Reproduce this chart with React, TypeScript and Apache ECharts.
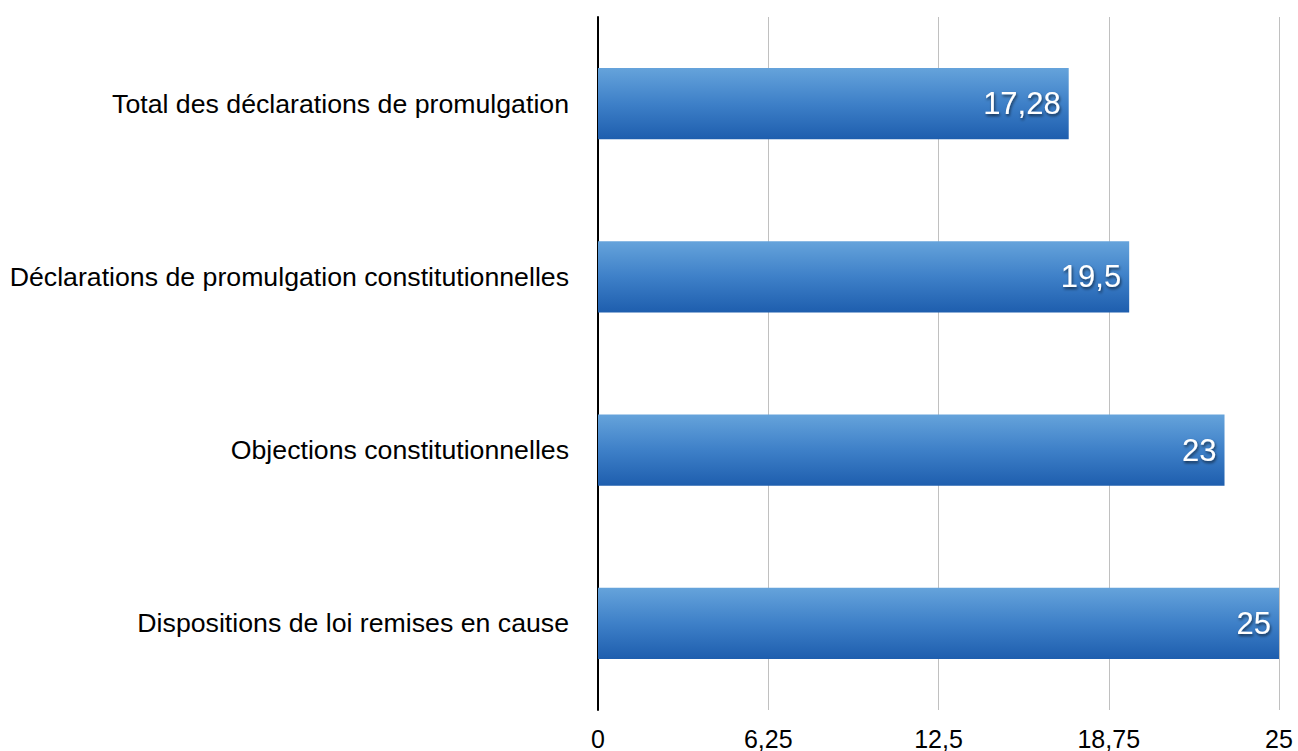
import React, { useEffect, useRef } from "react";
import * as echarts from "echarts";

const categories = [
  "Dispositions de loi remises en cause",
  "Objections constitutionnelles",
  "Déclarations de promulgation constitutionnelles",
  "Total des déclarations de promulgation",
];
const values = [25, 23, 19.5, 17.28];
const axisMin = 0;
const axisMax = 25;
const axisInterval = 6.25;

const fmt = (v: number) => String(v).replace(".", ",");

export default function App() {
  const ref = useRef<HTMLDivElement>(null);
  useEffect(() => {
    if (!ref.current) return;
    const chart = echarts.init(ref.current, undefined, { renderer: "svg" });
    const font = "'Liberation Sans', Helvetica, Arial, sans-serif";
    chart.setOption({
      animation: false,
      backgroundColor: "#ffffff",
      grid: { left: 598, right: 19, top: 17, bottom: 40, containLabel: false },
      xAxis: {
        type: "value",
        min: axisMin,
        max: axisMax,
        interval: axisInterval,
        axisLine: { show: false },
        axisTick: { show: false },
        splitLine: { show: true, lineStyle: { color: "#c0c0c0", width: 1 } },
        axisLabel: {
          color: "#000",
          fontSize: 25,
          fontFamily: font,
          margin: 16,
          formatter: (v: number) => fmt(v),
        },
      },
      yAxis: {
        type: "category",
        data: categories,
        axisLine: { show: true, lineStyle: { color: "#000", width: 2 } },
        axisTick: { show: false },
        axisLabel: {
          color: "#000",
          fontSize: 26.7,
          fontFamily: font,
          margin: 29,
        },
      },
      series: [
        {
          type: "bar",
          data: values,
          barWidth: "41%",
          itemStyle: {
            color: new echarts.graphic.LinearGradient(0, 0, 0, 1, [
              { offset: 0, color: "#65a3db" },
              { offset: 0.5, color: "#3e80c8" },
              { offset: 1, color: "#1e5eae" },
            ]),
          },
          label: {
            show: true,
            position: "insideRight",
            distance: 8,
            color: "#ffffff",
            fontSize: 31,
            fontFamily: font,
            textShadowColor: "rgba(0,0,0,0.6)",
            textShadowBlur: 3,
            textShadowOffsetX: 1,
            textShadowOffsetY: 2,
            formatter: (p: any) => fmt(p.value),
          },
        },
      ],
    });
    return () => chart.dispose();
  }, []);
  return <div ref={ref} style={{ width: 1298, height: 751, position: "absolute", left: 0, top: 0 }} />;
}
